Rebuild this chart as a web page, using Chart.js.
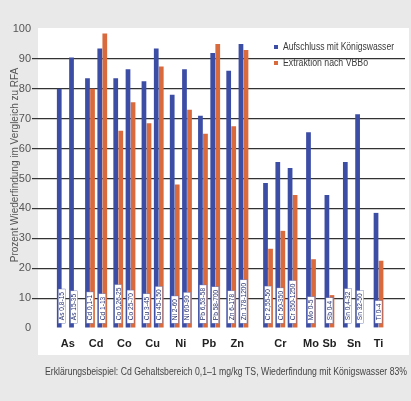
<!DOCTYPE html>
<html>
<head>
<meta charset="utf-8">
<script src="https://cdn.jsdelivr.net/npm/chart.js@4.4.1/dist/chart.umd.min.js"></script>
<style>
  html, body { margin: 0; padding: 0; background: #e9e9e9; }
  #wrap { width: 411px; height: 401px; }
</style>
</head>
<body>
<div id="wrap"><canvas id="recoveryChart" width="411" height="401"></canvas></div>
<script>
// concentration ranges (mg/kg TS), one bar pair each
const rangeLabels = [
  'As 0,8-15', 'As 15-35',
  'Cd 0,1-1', 'Cd 1-13',
  'Co 0,26-25', 'Co 25-70',
  'Cu 3-45', 'Cu 45-150',
  'Ni 2-60', 'Ni 60-90',
  'Pb 6,53-58', 'Pb 58-700',
  'Zn 6-178', 'Zn 178-1200',
  'Cr 2,55-50', 'Cr 50-350', 'Cr 350-1250',
  'Mo 0-5',
  'Sb 0-4',
  'Sn 0,4-32', 'Sn 32-50',
  'Ti 0-4'
];
const koenigswasser = [80, 90.5, 83.5, 93.5, 83.5, 86.5, 82.5, 93.5, 78, 86.5, 71, 92, 86, 95, 48.5, 55.5, 53.5, 65.5, 44.5, 55.5, 71.5, 38.5];
const vbbo = [null, null, 80, 98.5, 66, 75.5, 68.5, 87.5, 48, 73, 65, 95, 67.5, 93, 26.5, 32.5, 44.5, 23, 11, null, null, 22.5];
const yTicks = [0, 10, 20, 30, 40, 50, 60, 70, 80, 90, 100];

const seriesNames = ['Aufschluss mit Königswasser', 'Extraktion nach VBBo'];
const yTitle = 'Prozent Wiederfindung im Vergleich zu RFA';
const footNote = 'Erklärungsbeispiel: Cd Gehaltsbereich 0,1–1 mg/kg TS, Wiederfindung mit Königswasser 83%';

const BLUE = '#3c4da5';
const ORANGE = '#d96a3d';
const FONT = "'Liberation Sans', Arial, sans-serif";

// spacing: pairs of one element sit together, small gap between elements,
// wider gap before the second block (Cr ... Ti)
const elementOf = lab => lab.split(' ')[0];
const positions = [];
let cursor = 0, secondBlock = false;
rangeLabels.forEach((lab, i) => {
  if (i > 0) {
    const prev = elementOf(rangeLabels[i - 1]), cur = elementOf(lab);
    if (cur === prev) cursor += 1;
    else if (cur === 'Cr') { cursor += 2.0; secondBlock = true; }
    else cursor += secondBlock ? 1.5 : 1.3;
  }
  positions.push(cursor);
});

const groupNames = [];
const groupCenters = [];
rangeLabels.forEach((lab, i) => {
  const el = elementOf(lab);
  let g = groupNames.indexOf(el);
  if (g < 0) { groupNames.push(el); groupCenters.push([]); g = groupNames.length - 1; }
  groupCenters[g].push(positions[i]);
});
const groupMid = groupCenters.map(a => a.reduce((s, v) => s + v, 0) / a.length);

const toPoints = arr => arr.map((v, i) => ({ x: positions[i], y: v }));

const decorPlugin = {
  id: 'decor',
  beforeDraw(chart) {
    const ctx = chart.ctx, a = chart.chartArea;
    ctx.save();
    ctx.fillStyle = '#ffffff';
    ctx.fillRect(a.left, a.top - 1, a.right - a.left + 4, a.bottom - a.top + 28);
    ctx.restore();
  },
  afterDatasetsDraw(chart) {
    const ctx = chart.ctx, xs = chart.scales.x, ys = chart.scales.y;
    ctx.save();
    ctx.font = '6.6px ' + FONT;
    rangeLabels.forEach((lab, i) => {
      const cx = xs.getPixelForValue(positions[i]);
      const bottom = ys.getPixelForValue(1.6);
      const w = Math.min(ctx.measureText(lab).width, 46) + 6;
      ctx.fillStyle = '#ffffff';
      ctx.fillRect(cx - 3.5, bottom - w, 7, w);
      ctx.strokeStyle = '#5a66a8';
      ctx.lineWidth = 0.4;
      ctx.strokeRect(cx - 3.5, bottom - w, 7, w);
      ctx.translate(cx, bottom - 3);
      ctx.rotate(-Math.PI / 2);
      ctx.fillStyle = '#26316e';
      ctx.textAlign = 'left';
      ctx.textBaseline = 'middle';
      ctx.fillText(lab, 0, 0.5, 46);
      ctx.setTransform(1, 0, 0, 1, 0, 0);
    });
    ctx.restore();
  },
  afterDraw(chart) {
    const ctx = chart.ctx, a = chart.chartArea;
    ctx.save();
    // y axis title
    ctx.translate(15, 165);
    ctx.rotate(-Math.PI / 2);
    ctx.font = '10px ' + FONT;
    ctx.fillStyle = '#555';
    ctx.textAlign = 'center';
    ctx.textBaseline = 'middle';
    ctx.fillText(yTitle, 0, 0, 206);
    ctx.setTransform(1, 0, 0, 1, 0, 0);

    // legend in the plot
    ctx.font = '10px ' + FONT;
    ctx.textAlign = 'left';
    ctx.textBaseline = 'middle';
    const legendWidths = [111, 85];
    [BLUE, ORANGE].forEach((col, k) => {
      const ly = 47 + k * 16;
      const lx = a.left + 236;
      ctx.fillStyle = col;
      ctx.fillRect(lx, ly - 2, 4, 4);
      ctx.fillStyle = '#3a3a3a';
      ctx.fillText(seriesNames[k], lx + 9, ly, legendWidths[k]);
    });

    // footnote
    ctx.font = '10px ' + FONT;
    ctx.fillStyle = '#444';
    ctx.fillText(footNote, 45, 372, 362);
    ctx.restore();
  }
};

new Chart(document.getElementById('recoveryChart'), {
  type: 'bar',
  data: {
    datasets: [
      { label: seriesNames[0], data: toPoints(koenigswasser), backgroundColor: BLUE },
      { label: seriesNames[1], data: toPoints(vbbo), backgroundColor: ORANGE }
    ]
  },
  options: {
    responsive: false,
    animation: false,
    layout: { padding: { left: 0, right: 6, top: 29, bottom: 43 } },
    datasets: { bar: { categoryPercentage: 0.82, barPercentage: 0.94 } },
    plugins: { legend: { display: false }, tooltip: { enabled: false } },
    scales: {
      x: {
        type: 'linear',
        min: -0.69,
        max: 26.71,
        grid: { display: false, drawTicks: false },
        border: { display: false },
        afterFit: s => { s.height = 30; },
        afterBuildTicks: axis => { axis.ticks = groupMid.map(v => ({ value: v })); },
        ticks: {
          autoSkip: false,
          maxRotation: 0,
          padding: 9,
          color: '#222',
          font: { size: 11, family: FONT, weight: 'bold' },
          callback: (val, idx) => groupNames[idx]
        }
      },
      y: {
        min: 0,
        max: 100,
        afterFit: s => { s.width = 38; },
        afterBuildTicks: axis => { axis.ticks = yTicks.map(v => ({ value: v })); },
        grid: {
          color: c => (c.tick && (c.tick.value === 0 || c.tick.value === 100)) ? 'rgba(0,0,0,0)' : '#333',
          lineWidth: 1.2,
          tickLength: 6
        },
        border: { display: false },
        ticks: {
          padding: 1,
          color: '#555',
          font: { size: 11, family: FONT }
        }
      }
    }
  },
  plugins: [decorPlugin]
});
</script>
</body>
</html>
